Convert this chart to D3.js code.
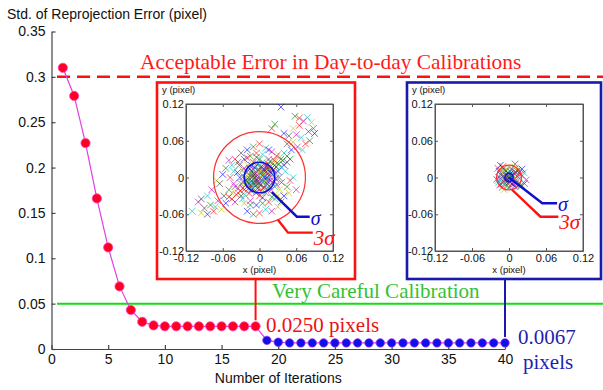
<!DOCTYPE html>
<html><head><meta charset="utf-8">
<script src="https://cdn.jsdelivr.net/npm/d3@7"></script>
<style>body{margin:0;background:#fff}svg{display:block}</style>
</head><body>
<svg id="c" width="603" height="390"></svg>
<script>
// ---- data ----
const iterations = d3.range(1, 41);
const stdError = [0.310,0.279,0.227,0.166,0.112,0.069,0.043,0.030,0.026,
  0.025,0.025,0.025,0.025,0.025,0.025,0.025,0.025,0.025,
  0.0095,0.0075,
  0.0067,0.0067,0.0067,0.0067,0.0067,0.0067,0.0067,0.0067,0.0067,0.0067,
  0.0067,0.0067,0.0067,0.0067,0.0067,0.0067,0.0067,0.0067,0.0067,0.0067];
const switchIteration = 18;
const xTicks = [0,5,10,15,20,25,30,35,40];
const yTicks = [0,0.05,0.1,0.15,0.2,0.25,0.3,0.35];
const acceptableLevel = 0.3;
const carefulLevel = 0.05;
const insetTicks = [-0.12,-0.06,0,0.06,0.12];
const sigma1 = 0.025, sigma2 = 0.0067;
// residuals, milli-pixels [x, y]
const residuals1 = [[35,115],[58,100],[65,97],[78,98],[72,92],[85,90],[80,75],[90,72],[82,60],[75,55],[68,65],[60,70],[55,80],[48,68],[40,72],[25,87],[20,80],[70,45],[62,50],[55,58],[45,55],[52,45],[88,80],[65,85],
[-110,-55],[-100,-40],[-95,-58],[-90,-50],[-85,-60],[-80,-45],[-75,-55],[-72,-48],[-68,-38],[-62,-52],[-58,-30],[-55,-42],[-50,-20],[-45,-35],[-85,-30],[-78,-20],[-70,-5],[-65,-10],[-60,5],[-55,15],[-48,0],[-42,10],[-40,-15],[-35,-25],[-95,-35],
[-20,-55],[-10,-60],[0,-58],[10,-52],[20,-55],[30,-48],[35,-40],[-5,-45],[5,-42],[15,-40],[25,-35],[-15,-38],[-25,-42],[-30,-30],[40,-30],[45,-15],[50,-5],[55,0],[60,-20],[48,-25],
[-30,40],[-20,45],[-10,50],[0,55],[10,48],[20,42],[30,38],[-35,25],[-25,30],[-15,35],[-5,40],[5,38],[15,30],[25,25],[35,30],[40,20],[45,35],[-40,30],[-45,20],[-50,28],
[0,0],[5,3],[-5,-3],[10,8],[-10,-8],[8,-5],[-8,5],[15,12],[-15,-12],[12,-10],[-12,10],[20,15],[-20,-15],[18,-5],[-18,5],[3,18],[-3,-18],[25,20],[-25,-20],[22,5],[-22,-5],[6,25],[-6,-25],[30,10],[-30,-10],[14,22],[-14,-22],[28,-12],[-28,12],[2,-12],[-2,12],[10,-25],[-10,25],[35,18],[-35,-18],[16,2],[-16,-2],[7,14],[-7,-14],[24,28],[-24,-28],[19,-20],[-19,20],[32,0],[-32,0],[0,30],[0,-30],[11,-2],[-11,2],[4,8],[-4,-8],[26,-2],[-26,2],[13,16],[-13,-16],
[9,20],[-9,-20],[21,-9],[-21,9],[17,26],[-17,-26],[27,8],[-27,-8],[3,-22],[-3,22],[12,0],[-12,0],[0,12],[0,-12],[23,13],[-23,-13],[8,-16],[-8,16],[31,22],[-31,-22],
[2,5],[-2,-5],[6,-2],[-6,2],[9,11],[-9,-11],[14,6],[-14,-6],[4,-6],[-4,6],[17,10],[-17,-10],[1,16],[-1,-16],[11,-14],[-11,14],[20,2],[-20,-2],[8,1],[-8,-1],[5,10],[-5,-10],[15,-1],[-15,1],[12,19],[-12,-19],[18,18],[-18,-18],[3,-3],[-3,3],[7,7],[-7,-7],[13,-6],[-13,6],[22,12],[-22,-12],[10,15],[-10,-15],[16,-14],[-16,14],
[38,28],[-38,-28],[42,10],[-42,-10],[33,-20],[-33,20],[15,45],[-15,-45],[28,35],[-28,-35],[45,25],[-45,-25],[36,-8],[-36,8],[20,-32],[-20,32],[40,40],[-40,-40],[30,-30],[-5,33],[5,-33],[50,30],[-50,-32],[25,-15],[-25,15],
[1,9],[-1,-9],[19,7],[-19,-7],[6,-17],[-6,17],[24,-6],[-24,6],[14,-20],[-14,20],[27,17],[-27,-17],[4,24],[-4,-24],[10,-6],[-10,6]];
const residuals2 = [[0,0],[3,2],[-3,-2],[6,4],[-6,-4],[5,-3],[-5,3],[9,6],[-9,-6],[8,-7],[-8,7],[12,8],[-12,-8],[10,-2],[-10,2],[2,10],[-2,-10],[15,12],[-15,-12],[14,-5],[-14,5],[4,14],[-4,-14],[18,5],[-18,-5],[7,-12],[-7,12],[16,-10],[-16,10],[20,-12],[-18,15],[22,3],[-20,-3],[11,16],[-11,-16],[1,5],[-1,-5],[13,2],[-13,-2],[6,-9],[-6,9],[25,-10],[-14,20],[19,-15],[-10,18],[24,8],[28,-4],[-8,-20],[10,22],[21,14],
[2,-1],[-2,1],[4,6],[-4,-6],[7,1],[-7,-1],[1,-7],[-1,7],[10,9],[-10,-9],[11,-9],[-11,9],[5,-11],[-5,11],[13,11],[-13,-11],[16,0],[-16,0],[0,16],[0,-16],[9,-14],[-9,14],[17,8],[-17,-8]];
const markerColors = ["#0000ff","#008000","#ff0000","#00bfbf","#bf00bf","#bfbf00","#404040"];

// ---- main chart ----
const svg = d3.select("#c");
const x = d3.scaleLinear().domain([0,40]).range([51.5,505]);
const y = d3.scaleLinear().domain([0,0.35]).range([349,31.5]);
const fmt = d => String(+d.toFixed(2));
const axisColor = "#444";

function styleAxis(g){
  g.selectAll("path,line").attr("stroke",axisColor).attr("stroke-width",1.2);
  g.selectAll("text").attr("fill","#111").style("font-family","'Liberation Sans',Arial,sans-serif").style("font-size","14px");
}
const gx = svg.append("g").attr("transform",`translate(0,${y(0)})`)
  .call(d3.axisBottom(x).tickValues(xTicks).tickSizeInner(-4).tickSizeOuter(0).tickPadding(5).tickFormat(d3.format("d")));
styleAxis(gx);
const gy = svg.append("g").attr("transform",`translate(${x(0)},0)`)
  .call(d3.axisLeft(y).tickValues(yTicks).tickSizeInner(-4).tickSizeOuter(0).tickPadding(6).tickFormat(fmt));
styleAxis(gy);

svg.append("text").attr("x",7).attr("y",19).text("Std. of Reprojection Error (pixel)")
  .style("font-family","'Liberation Sans',Arial,sans-serif").style("font-size","14px").attr("fill","#111");
svg.append("text").attr("x",(x(0)+x(40))/2).attr("y",383).attr("text-anchor","middle").text("Number of Iterations")
  .style("font-family","'Liberation Sans',Arial,sans-serif").style("font-size","14px").attr("fill","#111");

// reference lines
svg.append("line").attr("x1",57).attr("x2",603).attr("y1",y(acceptableLevel)).attr("y2",y(acceptableLevel))
  .attr("stroke","#ff1010").attr("stroke-width",2.5).attr("stroke-dasharray","13,7");
svg.append("line").attr("x1",57).attr("x2",603).attr("y1",y(carefulLevel)).attr("y2",y(carefulLevel))
  .attr("stroke","#11dd11").attr("stroke-width",2);

const serif = "'Liberation Serif','Times New Roman',serif";
svg.append("text").attr("x",140).attr("y",69).text("Acceptable Error in Day-to-day Calibrations")
  .style("font-family",serif).style("font-size","21.4px").attr("fill","#ff1a1a");
svg.append("text").attr("x",272).attr("y",298).text("Very Careful Calibration")
  .style("font-family",serif).style("font-size","21px").attr("fill","#33c233");
svg.append("text").attr("x",266).attr("y",332).text("0.0250 pixels")
  .style("font-family",serif).style("font-size","21px").attr("fill","#ee1111");
svg.append("text").attr("x",518).attr("y",344).text("0.0067")
  .style("font-family",serif).style("font-size","21px").attr("fill","#1f1fb0");
svg.append("text").attr("x",523).attr("y",369).text("pixels")
  .style("font-family",serif).style("font-size","21px").attr("fill","#1f1fb0");

// connectors
const insetTop = 82.5, insetBottom = 279;
svg.append("line").attr("x1",x(switchIteration)).attr("x2",x(switchIteration)).attr("y1",insetBottom).attr("y2",y(stdError[switchIteration-1])-6)
  .attr("stroke","#ff1010").attr("stroke-width",2);
svg.append("line").attr("x1",x(40)).attr("x2",x(40)).attr("y1",insetBottom).attr("y2",y(stdError[39])-6)
  .attr("stroke","#1a1aaa").attr("stroke-width",2);

// series line + markers
const pts = iterations.map((it,i)=>({it, v:stdError[i]}));
svg.append("path").datum(pts).attr("fill","none").attr("stroke","#e23ee2").attr("stroke-width",1.2)
  .attr("d", d3.line().x(d=>x(d.it)).y(d=>y(d.v)));
svg.selectAll("circle.pt").data(pts).join("circle").attr("class","pt")
  .attr("cx",d=>x(d.it)).attr("cy",d=>y(d.v)).attr("r",d=>d.it<=switchIteration?4.6:4.2)
  .attr("fill",d=>d.it<=switchIteration?"#ff0022":"#1010ee")
  .attr("stroke",d=>d.it<=switchIteration?"#ff40c0":"#9030e0").attr("stroke-width",0.8);

// ---- insets ----
function inset(opts){
  const {boxX0, boxX1, plotX0, plotX1, color, data, sigma, blueLead, redLead} = opts;
  const g = svg.append("g");
  g.append("rect").attr("x",boxX0).attr("y",insetTop).attr("width",boxX1-boxX0).attr("height",insetBottom-insetTop)
    .attr("fill","#fff").attr("stroke",color).attr("stroke-width",2.6);
  const sx = d3.scaleLinear().domain([-0.12,0.12]).range([plotX0,plotX1]);
  const sy = d3.scaleLinear().domain([-0.12,0.12]).range([251,104]);
  const sf = "'Liberation Sans',Arial,sans-serif";
  g.append("rect").attr("x",plotX0).attr("y",sy(0.12)).attr("width",plotX1-plotX0).attr("height",sy(-0.12)-sy(0.12))
    .attr("fill","none").attr("stroke","#555").attr("stroke-width",1);
  const ax = g.append("g").attr("transform",`translate(0,${sy(-0.12)})`)
    .call(d3.axisBottom(sx).tickValues(insetTicks).tickSizeInner(-3).tickSizeOuter(0).tickPadding(3).tickFormat(fmt));
  const ay = g.append("g").attr("transform",`translate(${plotX0},0)`)
    .call(d3.axisLeft(sy).tickValues(insetTicks).tickSizeInner(-3).tickSizeOuter(0).tickPadding(2).tickFormat(fmt));
  const axT = g.append("g").attr("transform",`translate(0,${sy(0.12)})`)
    .call(d3.axisTop(sx).tickValues(insetTicks).tickSizeInner(-3).tickSizeOuter(0).tickFormat(""));
  const ayR = g.append("g").attr("transform",`translate(${plotX1},0)`)
    .call(d3.axisRight(sy).tickValues(insetTicks).tickSizeInner(-3).tickSizeOuter(0).tickFormat(""));
  [ax,ay,axT,ayR].forEach(a=>{
    a.select(".domain").attr("stroke","#555");
    a.selectAll("line").attr("stroke","#555");
    a.selectAll("text").attr("fill","#111").style("font-family",sf).style("font-size","11px");
  });
  g.append("text").attr("x",boxX0+5).attr("y",93).text("y (pixel)").style("font-family",sf).style("font-size","9.5px").attr("fill","#111");
  g.append("text").attr("x",(plotX0+plotX1)/2).attr("y",273).attr("text-anchor","middle").text("x (pixel)").style("font-family",sf).style("font-size","9.5px").attr("fill","#111");
  const m = 3.3;
  g.selectAll("path.mk").data(data).join("path").attr("class","mk")
    .attr("d",d=>{const px=sx(d[0]/1000), py=sy(d[1]/1000);
      return `M${px-m},${py-m}L${px+m},${py+m}M${px-m},${py+m}L${px+m},${py-m}`;})
    .attr("stroke",(d,i)=>markerColors[i%markerColors.length]).attr("stroke-width",0.9).attr("opacity",0.7).attr("fill","none");
  const k = sx(1)-sx(0);
  g.append("circle").attr("cx",sx(0)).attr("cy",sy(0)).attr("r",3*sigma*k).attr("fill","none").attr("stroke","#ff3030").attr("stroke-width",1.2);
  g.append("circle").attr("cx",sx(0)).attr("cy",sy(0)).attr("r",sigma*k).attr("fill","none").attr("stroke","#1010dd").attr("stroke-width",1.6);
  const line = d3.line().x(d=>sx(d[0])).y(d=>sy(d[1]));
  g.append("path").attr("d",line(blueLead)).attr("fill","none").attr("stroke","#1010cc").attr("stroke-width",2.4);
  g.append("path").attr("d",line(redLead)).attr("fill","none").attr("stroke","#ff1010").attr("stroke-width",2.4);
  const be = blueLead[blueLead.length-1], re = redLead[redLead.length-1];
  g.append("text").attr("x",sx(be[0])+1).attr("y",sy(be[1])+8).text("σ")
    .style("font-family",serif).style("font-style","italic").style("font-size","20px").attr("fill","#1010cc");
  g.append("text").attr("x",sx(re[0])+1).attr("y",sy(re[1])+12).text("3σ")
    .style("font-family",serif).style("font-style","italic").style("font-size","21px").attr("fill","#ff1010");
}
inset({boxX0:157, boxX1:355, plotX0:186, plotX1:333, color:"#ff1010", data:residuals1, sigma:sigma1,
  blueLead:[[0.020,-0.024],[0.061,-0.064],[0.082,-0.064]],
  redLead:[[0.030,-0.069],[0.0465,-0.090],[0.087,-0.090]]});
inset({boxX0:407, boxX1:601, plotX0:435, plotX1:583, color:"#1a1aaa", data:residuals2, sigma:sigma2,
  blueLead:[[0,0],[0.054,-0.042],[0.078,-0.042]],
  redLead:[[0.005,-0.020],[0.051,-0.064],[0.080,-0.064]]});
</script>
</body></html>
